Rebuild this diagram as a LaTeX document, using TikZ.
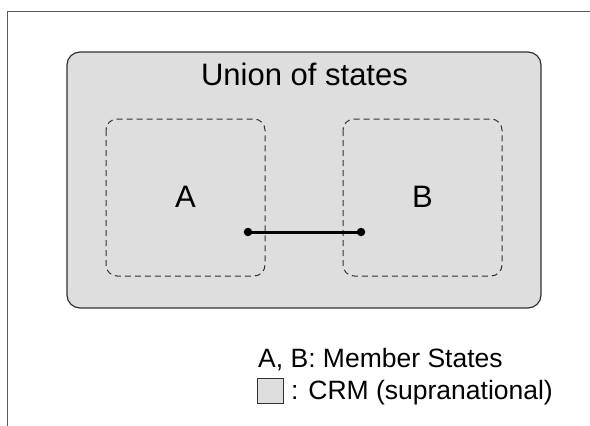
\documentclass[tikz,border=0pt]{standalone}
\usepackage{fontspec}
\setmainfont{Liberation Sans}
\definecolor{crmfill}{RGB}{222,222,222}
\definecolor{edge}{RGB}{50,50,50}
\definecolor{frame}{RGB}{90,90,90}
\begin{document}
\begin{tikzpicture}[x=1pt,y=-1pt,
  union/.style={draw=edge,line width=1.2pt,fill=crmfill,rounded corners=13pt},
  member/.style={draw=black!80,line width=1pt,dash pattern=on 6pt off 4pt,rounded corners=11pt},
  lbl/.style={font=\fontsize{31}{34}\selectfont,inner sep=0pt},
  leg/.style={font=\fontsize{26.5}{30}\selectfont,inner sep=0pt,anchor=base west},
  dot/.style={circle,fill=black,inner sep=0pt,minimum size=8.5pt}]
\useasboundingbox (0,0) rectangle (590,426);
\draw[frame,line width=1.3pt] (7.5,426) -- (7.5,11.5) -- (590,11.5);
\draw[union] (67,52) rectangle (541,308);
\node[lbl,anchor=base] (title) at (304.5,85) {Union of states};
\draw[member] (106,119) rectangle (265,276);
\draw[member] (343,119) rectangle (502,276);
\node[lbl,anchor=base] (A) at (185.5,207) {A};
\node[lbl,anchor=base] (B) at (422.5,207) {B};
\node[dot] (p) at (248,232) {};
\node[dot] (q) at (361,232) {};
\draw[line width=3pt] (p.center) -- (q.center);
\node[leg] (l1) at (258,367) {A, B: Member States};
\draw[edge,line width=1pt,fill=crmfill] (257,378) rectangle (283,403);
\node[leg] (l2) at (291,399) {: CRM (supranational)};
\end{tikzpicture}
\end{document}
